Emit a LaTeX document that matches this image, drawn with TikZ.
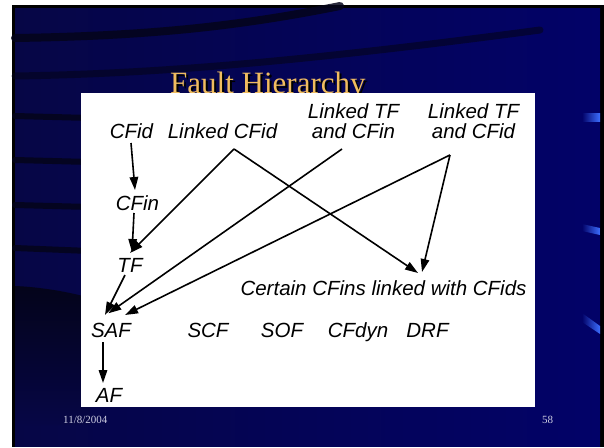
\documentclass[tikz,border=0pt]{standalone}
\usepackage{fontspec}
\setmainfont{Liberation Serif}
\setsansfont{Liberation Sans}
\usetikzlibrary{arrows.meta}
\definecolor{navyL}{RGB}{6,6,70}
\definecolor{navyR}{RGB}{2,2,104}
\definecolor{band}{RGB}{4,4,26}
\definecolor{gold}{RGB}{240,188,96}
\definecolor{foot}{RGB}{205,205,225}
\definecolor{accent}{RGB}{60,110,255}
\tikzset{
  lbl/.style={inner sep=0pt, anchor=base, font=\sffamily\itshape\fontsize{20.5}{20.5}\selectfont, text=black},
  arr/.style={line width=1.6pt, -{Triangle[length=13pt,width=8.5pt]}},
  bandline/.style={draw=band, line cap=round, opacity=0.85},
  acc/.style={left color=navyR, right color=accent},
  foottext/.style={inner sep=0pt, anchor=base west, font=\fontsize{11}{11}\selectfont, text=foot}
}
\begin{document}
\begin{tikzpicture}[x=1pt,y=-1pt]
\useasboundingbox (0,0) rectangle (604,447);
% slide background
\fill[white] (0,0) rectangle (604,447);
\fill[black] (12,5) rectangle (604,447);
\shade[left color=navyL, right color=navyR] (15,8) rectangle (600,446);
% dark sweeping bands
\draw[bandline, line width=8pt] (15,38) .. controls (150,36) and (240,26) .. (340,6);
\draw[bandline, line width=7pt, opacity=0.6] (15,76) .. controls (150,74) and (300,62) .. (540,30);
\draw[bandline, line width=6pt] (15,116) -- (90,118);
\draw[bandline, line width=6pt] (15,160) -- (90,162);
\draw[bandline, line width=6pt] (15,205) -- (90,207);
\draw[bandline, line width=6pt] (15,248) -- (90,251);
\shade[top color=band, bottom color=navyL] (15,286) .. controls (40,287) and (70,292) .. (90,298) -- (90,425) -- (15,425) -- cycle;
% right accents
\shade[acc] (582,113) -- (600,113) -- (600,121) -- (582,121) -- cycle;
\shade[acc] (582,224) -- (600,228) -- (600,235) -- (582,231) -- cycle;
\shade[acc] (582,313) -- (600,326) -- (600,334) -- (582,322) -- cycle;
% title
\node[inner sep=0pt, anchor=base west, font=\fontsize{31}{31}\selectfont, text=black] at (172,95) {Fault Hierarchy};
\node (title) [inner sep=0pt, anchor=base west, font=\fontsize{31}{31}\selectfont, text=gold] at (170,93) {Fault Hierarchy};
% white panel
\fill[white] (81,93) rectangle (535,407);
% footer
\node (date) [foottext] at (63,423) {11/8/2004};
\node (page) [foottext] at (542,423) {58};
% labels
\node (cfid) [lbl] at (131.5,138) {CFid};
\node (lcfid) [lbl] at (222.5,138) {Linked CFid};
\node (ltfa) [lbl] at (353.5,118) {Linked TF};
\node (ltfcfin) [lbl] at (353.5,138) {and CFin};
\node (ltfb) [lbl] at (473.5,118) {Linked TF};
\node (ltfcfid) [lbl] at (473.5,138) {and CFid};
\node (cfin) [lbl] at (137.5,210) {CFin};
\node (tf) [lbl] at (130,272) {TF};
\node (cert) [lbl] at (383.5,295) {Certain CFins linked with CFids};
\node (saf) [lbl] at (111,337) {SAF};
\node (scf) [lbl] at (208,337) {SCF};
\node (sof) [lbl] at (282,337) {SOF};
\node (cfdyn) [lbl] at (358,337) {CFdyn};
\node (drf) [lbl] at (427.5,337) {DRF};
\node (af) [lbl] at (109,402) {AF};
% connectors
\draw[arr] ([shift={(-0.5,5)}]cfid.base) -- ([shift={(-2.5,-20)}]cfin.base);
\draw[arr] ([shift={(-3.5,3)}]cfin.base) -- ([shift={(2,-20)}]tf.base);
\draw[arr] ([shift={(11.5,11)}]lcfid.base) -- ([shift={(0,-19)}]tf.base);
\draw[arr] ([shift={(11.5,11)}]lcfid.base) -- ([shift={(34.5,-22)}]cert.base);
\draw[arr] ([shift={(-11.5,11)}]ltfcfin.base) -- ([shift={(-2.7,-23.7)}]saf.base);
\draw[arr] ([shift={(-23.5,17)}]ltfcfid.base) -- ([shift={(14,-22)}]saf.base);
\draw[arr] ([shift={(-23.5,17)}]ltfcfid.base) -- ([shift={(38.5,-23)}]cert.base);
\draw[arr] ([shift={(-5,3)}]tf.base) -- ([shift={(-6,-22)}]saf.base);
\draw[arr] ([shift={(-8,5)}]saf.base) -- ([shift={(-6,-19)}]af.base);
\end{tikzpicture}
\end{document}
